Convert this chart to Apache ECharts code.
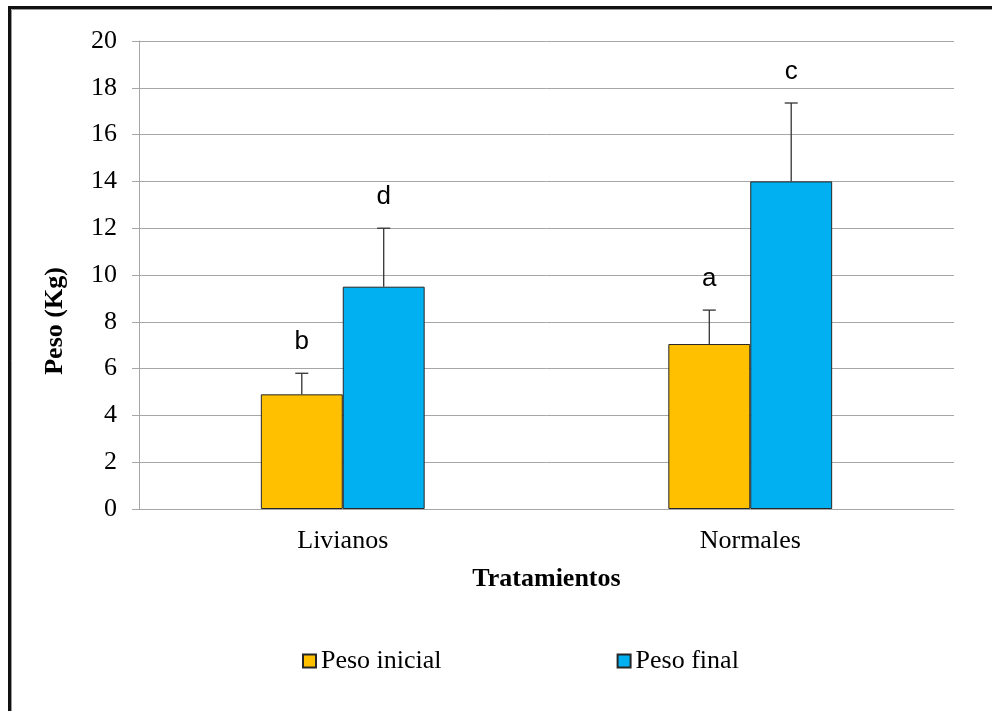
<!DOCTYPE html>
<html>
<head>
<meta charset="utf-8">
<script src="https://cdn.jsdelivr.net/npm/echarts@6/dist/echarts.min.js"></script>
<style>
  html, body { margin: 0; padding: 0; background: #ffffff; }
  #chart { width: 992px; height: 711px; }
</style>
</head>
<body>
<div id="chart"></div>
<script>
// Treatments on the x axis
const categories = ['Livianos', 'Normales'];
// Mean weights (kg)
const pesoInicial = [4.9, 7.05];
const pesoFinal = [9.5, 14.0];
// Standard deviations drawn as upper error bars
const errInicial = [0.9, 1.45];
const errFinal = [2.5, 3.35];
// Significance letters above each bar
const letrasInicial = ['b', 'a'];
const letrasFinal = ['d', 'c'];
// Y axis ticks
const yMin = 0, yMax = 20, yStep = 2;

const serif = '"Liberation Serif", "Times New Roman", serif';
const sans = '"Liberation Sans", Arial, sans-serif';
const catGapRatio = 0.598;

const chart = echarts.init(document.getElementById('chart'), null, { renderer: 'canvas' });

function errorSeries(name, values, errs, letters, side) {
  return {
    type: 'custom',
    name: name + ' error',
    z: 5,
    data: values.map((v, i) => [i, v, errs[i], letters[i]]),
    renderItem: function (params, api) {
      const idx = api.value(0);
      const band = api.size([1, 0])[0];
      const barW = band * (1 - catGapRatio) / 2;
      const base = api.coord([idx, api.value(1)]);
      const top = api.coord([idx, api.value(1) + api.value(2)]);
      const x = base[0] + side * barW / 2;
      const cap = 6.5;
      const lineStyle = { stroke: '#333333', lineWidth: 1.3 };
      return {
        type: 'group',
        children: [
          { type: 'line', shape: { x1: x, y1: base[1], x2: x, y2: top[1] }, style: lineStyle },
          { type: 'line', shape: { x1: x - cap, y1: top[1], x2: x + cap, y2: top[1] }, style: lineStyle },
          {
            type: 'text',
            x: x, y: top[1] - 31,
            style: {
              text: api.value(3),
              fill: '#000000',
              font: '26px ' + sans,
              align: 'center',
              verticalAlign: 'middle'
            }
          }
        ]
      };
    }
  };
}

const option = {
  backgroundColor: '#ffffff',
  animation: false,
  grid: { left: 139, right: 38, top: 41, bottom: 202, containLabel: false },
  graphic: [
    {
      type: 'rect', silent: true, z: 100,
      shape: { x: 9.5, y: 7.5, width: 2000, height: 2000 },
      style: { fill: 'none', stroke: '#111111', lineWidth: 3 }
    },
    {
      type: 'rect', silent: true, z: 100,
      shape: { x: 11.5, y: 9.5, width: 2000, height: 2000 },
      style: { fill: 'none', stroke: '#9a9a9a', lineWidth: 1 }
    },
    {
      type: 'text', z: 100,
      x: 55, y: 321, rotation: Math.PI / 2,
      style: {
        text: 'Peso (Kg)',
        font: 'bold 26px ' + serif,
        fill: '#000000',
        align: 'center',
        verticalAlign: 'middle'
      }
    }
  ],
  legend: {
    left: 297,
    top: 643,
    itemWidth: 13,
    itemHeight: 13,
    itemGap: 175,
    icon: 'rect',
    data: ['Peso inicial', 'Peso final'],
    textStyle: { fontFamily: serif, fontSize: 26, color: '#000000', lineHeight: 26 }
  },
  xAxis: {
    type: 'category',
    data: categories,
    name: 'Tratamientos',
    nameLocation: 'middle',
    nameGap: 57,
    nameTextStyle: { fontFamily: serif, fontSize: 26, fontWeight: 'bold', color: '#000000', verticalAlign: 'top' },
    axisLine: { lineStyle: { color: '#a6a6a6', width: 1 } },
    axisTick: { show: false },
    axisLabel: { fontFamily: serif, fontSize: 26, color: '#000000', margin: 19 }
  },
  yAxis: {
    type: 'value',
    min: yMin,
    max: yMax,
    interval: yStep,
    axisLine: { show: true, lineStyle: { color: '#a6a6a6', width: 1 } },
    axisTick: { show: true, length: 7, lineStyle: { color: '#a6a6a6' } },
    axisLabel: { fontFamily: serif, fontSize: 26, color: '#000000', margin: 22 },
    splitLine: { lineStyle: { color: '#a6a6a6', width: 1 } }
  },
  series: [
    {
      name: 'Peso inicial',
      type: 'bar',
      data: pesoInicial,
      barGap: '0%',
      barCategoryGap: (catGapRatio * 100) + '%',
      itemStyle: { color: '#FFC000', borderColor: '#262626', borderWidth: 1 }
    },
    {
      name: 'Peso final',
      type: 'bar',
      data: pesoFinal,
      barGap: '0%',
      barCategoryGap: (catGapRatio * 100) + '%',
      itemStyle: { color: '#00B0F0', borderColor: '#262626', borderWidth: 1 }
    },
    errorSeries('Peso inicial', pesoInicial, errInicial, letrasInicial, -1),
    errorSeries('Peso final', pesoFinal, errFinal, letrasFinal, 1)
  ]
};

chart.setOption(option);
</script>
</body>
</html>
